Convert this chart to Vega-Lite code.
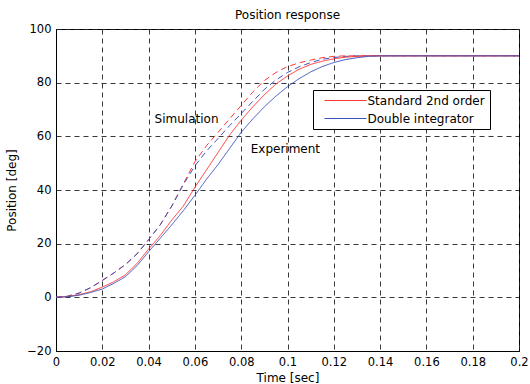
{
  "$schema": "https://vega.github.io/schema/vega-lite/v6.json",
  "width": 463,
  "height": 322,
  "autosize": {"type": "none"},
  "padding": {"left": 56, "top": 29, "right": 11, "bottom": 33},
  "background": "white",
  "title": {"text": "Position response", "font": "DejaVu Sans", "fontSize": 12, "fontWeight": "normal", "color": "black", "anchor": "middle", "frame": "group", "offset": 1},
  "config": {
    "view": {"stroke": "black", "strokeWidth": 1},
    "axis": {
      "labelFont": "DejaVu Sans", "labelFontSize": 11.5, "labelColor": "black",
      "titleFont": "DejaVu Sans", "titleFontSize": 12, "titleFontWeight": "normal", "titleColor": "black",
      "domainColor": "black", "ticks": false, "gridColor": "#222", "gridDash": [5, 4], "gridWidth": 1, "gridOpacity": 0.9,
      "labelFlush": false, "labelOverlap": false, "labelPadding": 5
    }
  },
  "datasets": {
    "curves": [
      {"t": 0, "pos": 0, "model": "Standard 2nd order", "kind": "Simulation"},
      {"t": 0.005, "pos": 0.4, "model": "Standard 2nd order", "kind": "Simulation"},
      {"t": 0.01, "pos": 1.6, "model": "Standard 2nd order", "kind": "Simulation"},
      {"t": 0.015, "pos": 3.6, "model": "Standard 2nd order", "kind": "Simulation"},
      {"t": 0.02, "pos": 6.3, "model": "Standard 2nd order", "kind": "Simulation"},
      {"t": 0.025, "pos": 9.1, "model": "Standard 2nd order", "kind": "Simulation"},
      {"t": 0.03, "pos": 12.2, "model": "Standard 2nd order", "kind": "Simulation"},
      {"t": 0.035, "pos": 16.2, "model": "Standard 2nd order", "kind": "Simulation"},
      {"t": 0.04, "pos": 21.5, "model": "Standard 2nd order", "kind": "Simulation"},
      {"t": 0.045, "pos": 27, "model": "Standard 2nd order", "kind": "Simulation"},
      {"t": 0.05, "pos": 34, "model": "Standard 2nd order", "kind": "Simulation"},
      {"t": 0.055, "pos": 42.3, "model": "Standard 2nd order", "kind": "Simulation"},
      {"t": 0.06, "pos": 50.5, "model": "Standard 2nd order", "kind": "Simulation"},
      {"t": 0.065, "pos": 56.5, "model": "Standard 2nd order", "kind": "Simulation"},
      {"t": 0.07, "pos": 61.5, "model": "Standard 2nd order", "kind": "Simulation"},
      {"t": 0.075, "pos": 66.5, "model": "Standard 2nd order", "kind": "Simulation"},
      {"t": 0.08, "pos": 71.5, "model": "Standard 2nd order", "kind": "Simulation"},
      {"t": 0.085, "pos": 76.5, "model": "Standard 2nd order", "kind": "Simulation"},
      {"t": 0.09, "pos": 80.8, "model": "Standard 2nd order", "kind": "Simulation"},
      {"t": 0.095, "pos": 83.8, "model": "Standard 2nd order", "kind": "Simulation"},
      {"t": 0.1, "pos": 86, "model": "Standard 2nd order", "kind": "Simulation"},
      {"t": 0.105, "pos": 87.4, "model": "Standard 2nd order", "kind": "Simulation"},
      {"t": 0.11, "pos": 88.4, "model": "Standard 2nd order", "kind": "Simulation"},
      {"t": 0.115, "pos": 89.3, "model": "Standard 2nd order", "kind": "Simulation"},
      {"t": 0.12, "pos": 89.8, "model": "Standard 2nd order", "kind": "Simulation"},
      {"t": 0.125, "pos": 90, "model": "Standard 2nd order", "kind": "Simulation"},
      {"t": 0.2, "pos": 90, "model": "Standard 2nd order", "kind": "Simulation"},

      {"t": 0, "pos": 0, "model": "Double integrator", "kind": "Simulation"},
      {"t": 0.005, "pos": 0.4, "model": "Double integrator", "kind": "Simulation"},
      {"t": 0.01, "pos": 1.6, "model": "Double integrator", "kind": "Simulation"},
      {"t": 0.015, "pos": 3.6, "model": "Double integrator", "kind": "Simulation"},
      {"t": 0.02, "pos": 6.3, "model": "Double integrator", "kind": "Simulation"},
      {"t": 0.025, "pos": 9.1, "model": "Double integrator", "kind": "Simulation"},
      {"t": 0.03, "pos": 12.2, "model": "Double integrator", "kind": "Simulation"},
      {"t": 0.035, "pos": 16.2, "model": "Double integrator", "kind": "Simulation"},
      {"t": 0.04, "pos": 21.5, "model": "Double integrator", "kind": "Simulation"},
      {"t": 0.045, "pos": 27, "model": "Double integrator", "kind": "Simulation"},
      {"t": 0.05, "pos": 34, "model": "Double integrator", "kind": "Simulation"},
      {"t": 0.055, "pos": 42, "model": "Double integrator", "kind": "Simulation"},
      {"t": 0.06, "pos": 49, "model": "Double integrator", "kind": "Simulation"},
      {"t": 0.065, "pos": 54.5, "model": "Double integrator", "kind": "Simulation"},
      {"t": 0.07, "pos": 59.2, "model": "Double integrator", "kind": "Simulation"},
      {"t": 0.075, "pos": 64, "model": "Double integrator", "kind": "Simulation"},
      {"t": 0.08, "pos": 68.5, "model": "Double integrator", "kind": "Simulation"},
      {"t": 0.085, "pos": 73, "model": "Double integrator", "kind": "Simulation"},
      {"t": 0.09, "pos": 77.5, "model": "Double integrator", "kind": "Simulation"},
      {"t": 0.095, "pos": 81, "model": "Double integrator", "kind": "Simulation"},
      {"t": 0.1, "pos": 83.8, "model": "Double integrator", "kind": "Simulation"},
      {"t": 0.105, "pos": 85.9, "model": "Double integrator", "kind": "Simulation"},
      {"t": 0.11, "pos": 87.5, "model": "Double integrator", "kind": "Simulation"},
      {"t": 0.115, "pos": 88.7, "model": "Double integrator", "kind": "Simulation"},
      {"t": 0.12, "pos": 89.4, "model": "Double integrator", "kind": "Simulation"},
      {"t": 0.125, "pos": 89.8, "model": "Double integrator", "kind": "Simulation"},
      {"t": 0.13, "pos": 90, "model": "Double integrator", "kind": "Simulation"},
      {"t": 0.2, "pos": 90, "model": "Double integrator", "kind": "Simulation"},

      {"t": 0, "pos": 0, "model": "Standard 2nd order", "kind": "Experiment"},
      {"t": 0.005, "pos": 0.3, "model": "Standard 2nd order", "kind": "Experiment"},
      {"t": 0.01, "pos": 1, "model": "Standard 2nd order", "kind": "Experiment"},
      {"t": 0.015, "pos": 2.1, "model": "Standard 2nd order", "kind": "Experiment"},
      {"t": 0.02, "pos": 3.8, "model": "Standard 2nd order", "kind": "Experiment"},
      {"t": 0.025, "pos": 5.8, "model": "Standard 2nd order", "kind": "Experiment"},
      {"t": 0.03, "pos": 8.4, "model": "Standard 2nd order", "kind": "Experiment"},
      {"t": 0.035, "pos": 12.6, "model": "Standard 2nd order", "kind": "Experiment"},
      {"t": 0.04, "pos": 18, "model": "Standard 2nd order", "kind": "Experiment"},
      {"t": 0.045, "pos": 23, "model": "Standard 2nd order", "kind": "Experiment"},
      {"t": 0.05, "pos": 28.8, "model": "Standard 2nd order", "kind": "Experiment"},
      {"t": 0.055, "pos": 34, "model": "Standard 2nd order", "kind": "Experiment"},
      {"t": 0.06, "pos": 41, "model": "Standard 2nd order", "kind": "Experiment"},
      {"t": 0.065, "pos": 47.5, "model": "Standard 2nd order", "kind": "Experiment"},
      {"t": 0.07, "pos": 54, "model": "Standard 2nd order", "kind": "Experiment"},
      {"t": 0.075, "pos": 60.5, "model": "Standard 2nd order", "kind": "Experiment"},
      {"t": 0.08, "pos": 66, "model": "Standard 2nd order", "kind": "Experiment"},
      {"t": 0.085, "pos": 71, "model": "Standard 2nd order", "kind": "Experiment"},
      {"t": 0.09, "pos": 75.5, "model": "Standard 2nd order", "kind": "Experiment"},
      {"t": 0.095, "pos": 79.5, "model": "Standard 2nd order", "kind": "Experiment"},
      {"t": 0.1, "pos": 82.5, "model": "Standard 2nd order", "kind": "Experiment"},
      {"t": 0.105, "pos": 85, "model": "Standard 2nd order", "kind": "Experiment"},
      {"t": 0.11, "pos": 86.8, "model": "Standard 2nd order", "kind": "Experiment"},
      {"t": 0.115, "pos": 88, "model": "Standard 2nd order", "kind": "Experiment"},
      {"t": 0.12, "pos": 88.9, "model": "Standard 2nd order", "kind": "Experiment"},
      {"t": 0.125, "pos": 89.5, "model": "Standard 2nd order", "kind": "Experiment"},
      {"t": 0.13, "pos": 89.8, "model": "Standard 2nd order", "kind": "Experiment"},
      {"t": 0.135, "pos": 90, "model": "Standard 2nd order", "kind": "Experiment"},
      {"t": 0.2, "pos": 90, "model": "Standard 2nd order", "kind": "Experiment"},

      {"t": 0, "pos": 0, "model": "Double integrator", "kind": "Experiment"},
      {"t": 0.005, "pos": 0.2, "model": "Double integrator", "kind": "Experiment"},
      {"t": 0.01, "pos": 0.8, "model": "Double integrator", "kind": "Experiment"},
      {"t": 0.015, "pos": 1.8, "model": "Double integrator", "kind": "Experiment"},
      {"t": 0.02, "pos": 3.1, "model": "Double integrator", "kind": "Experiment"},
      {"t": 0.025, "pos": 5.2, "model": "Double integrator", "kind": "Experiment"},
      {"t": 0.03, "pos": 7.7, "model": "Double integrator", "kind": "Experiment"},
      {"t": 0.035, "pos": 11.8, "model": "Double integrator", "kind": "Experiment"},
      {"t": 0.04, "pos": 17, "model": "Double integrator", "kind": "Experiment"},
      {"t": 0.045, "pos": 22, "model": "Double integrator", "kind": "Experiment"},
      {"t": 0.05, "pos": 27, "model": "Double integrator", "kind": "Experiment"},
      {"t": 0.055, "pos": 32.3, "model": "Double integrator", "kind": "Experiment"},
      {"t": 0.06, "pos": 38, "model": "Double integrator", "kind": "Experiment"},
      {"t": 0.065, "pos": 44, "model": "Double integrator", "kind": "Experiment"},
      {"t": 0.07, "pos": 49.5, "model": "Double integrator", "kind": "Experiment"},
      {"t": 0.075, "pos": 55.5, "model": "Double integrator", "kind": "Experiment"},
      {"t": 0.08, "pos": 61.5, "model": "Double integrator", "kind": "Experiment"},
      {"t": 0.085, "pos": 66.5, "model": "Double integrator", "kind": "Experiment"},
      {"t": 0.09, "pos": 71, "model": "Double integrator", "kind": "Experiment"},
      {"t": 0.095, "pos": 75, "model": "Double integrator", "kind": "Experiment"},
      {"t": 0.1, "pos": 78.5, "model": "Double integrator", "kind": "Experiment"},
      {"t": 0.105, "pos": 81.5, "model": "Double integrator", "kind": "Experiment"},
      {"t": 0.11, "pos": 84, "model": "Double integrator", "kind": "Experiment"},
      {"t": 0.115, "pos": 86, "model": "Double integrator", "kind": "Experiment"},
      {"t": 0.12, "pos": 87.5, "model": "Double integrator", "kind": "Experiment"},
      {"t": 0.125, "pos": 88.6, "model": "Double integrator", "kind": "Experiment"},
      {"t": 0.13, "pos": 89.3, "model": "Double integrator", "kind": "Experiment"},
      {"t": 0.135, "pos": 89.8, "model": "Double integrator", "kind": "Experiment"},
      {"t": 0.14, "pos": 90, "model": "Double integrator", "kind": "Experiment"},
      {"t": 0.2, "pos": 90, "model": "Double integrator", "kind": "Experiment"}
    ],
    "notes": [
      {"t": 0.0426, "pos": 66.3, "label": "Simulation"},
      {"t": 0.0841, "pos": 55.3, "label": "Experiment"}
    ]
  },
  "layer": [
    {
      "data": {"name": "curves"},
      "mark": {"type": "line", "strokeWidth": 1, "clip": true},
      "encoding": {
        "x": {"field": "t", "type": "quantitative", "title": "Time [sec]",
              "scale": {"domain": [0, 0.2], "nice": false, "zero": false},
              "axis": {"values": [0, 0.02, 0.04, 0.06, 0.08, 0.1, 0.12, 0.14, 0.16, 0.18, 0.2], "format": "~g", "titlePadding": 5}},
        "y": {"field": "pos", "type": "quantitative", "title": "Position [deg]",
              "scale": {"domain": [-20, 100], "nice": false, "zero": false},
              "axis": {"values": [-20, 0, 20, 40, 60, 80, 100], "titlePadding": 8}},
        "color": {"field": "model", "type": "nominal",
                  "scale": {"domain": ["Standard 2nd order", "Double integrator"], "range": ["#ff3535", "#3c55bf"]},
                  "legend": {"title": null, "orient": "none", "legendX": 257, "legendY": 61,
                             "symbolType": "M-10,0H10", "symbolSize": 17.64, "symbolStrokeWidth": 1,
                             "labelFont": "DejaVu Sans", "labelFontSize": 12, "labelColor": "black",
                             "labelOffset": 16, "padding": 4.5, "symbolOffset": 22, "rowPadding": 6,
                             "fillColor": "white", "strokeColor": "black"}},
        "strokeDash": {"field": "kind", "type": "nominal",
                       "scale": {"domain": ["Experiment", "Simulation"], "range": [[1, 0], [6, 4]]},
                       "legend": null}
      }
    },
    {
      "data": {"name": "notes"},
      "mark": {"type": "text", "align": "left", "baseline": "middle", "font": "DejaVu Sans", "fontSize": 12, "color": "black"},
      "encoding": {
        "x": {"field": "t", "type": "quantitative"},
        "y": {"field": "pos", "type": "quantitative"},
        "text": {"field": "label"}
      }
    }
  ]
}
